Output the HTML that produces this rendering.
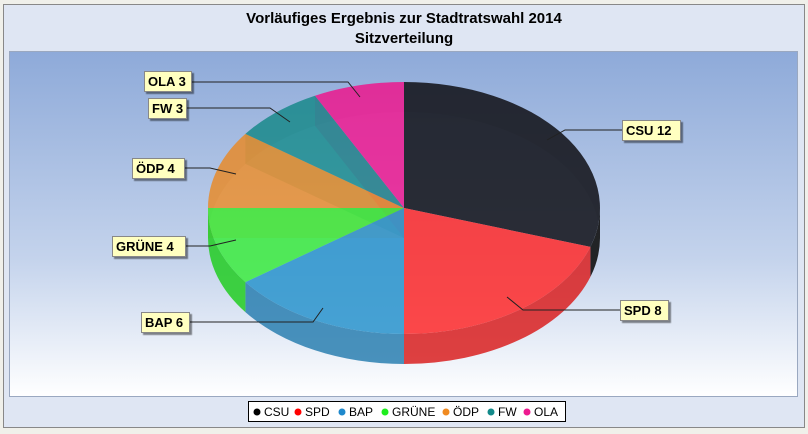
<!DOCTYPE html>
<html><head><meta charset="utf-8"><style>
body{margin:0;width:808px;height:429px;background:#f0f0ea;font-family:"Liberation Sans",sans-serif;overflow:hidden}
</style></head><body>
<svg width="808" height="429" xmlns="http://www.w3.org/2000/svg" font-family="Liberation Sans, sans-serif">
<defs>
<linearGradient id="bg" x1="0" y1="0" x2="0" y2="1">
<stop offset="0" stop-color="#8eaad9"/><stop offset="0.6" stop-color="#c4d3ec"/><stop offset="1" stop-color="#ffffff"/>
</linearGradient>
<filter id="sh"><feDropShadow dx="2" dy="2" stdDeviation="0.6" flood-color="#000" flood-opacity="0.45"/></filter>
</defs>
<rect x="3.5" y="4.5" width="801" height="423" fill="#dfe6f3" stroke="#888" stroke-width="1"/>
<text x="404" y="23" text-anchor="middle" font-weight="bold" font-size="15">Vorläufiges Ergebnis zur Stadtratswahl 2014</text>
<text x="404" y="43" text-anchor="middle" font-weight="bold" font-size="15">Sitzverteilung</text>
<rect x="9.5" y="51.5" width="788" height="345" fill="url(#bg)" stroke="#9aa8c0"/>
<g>
<!-- back walls faint -->
<path d="M208,208 A196,126 0 0 1 600,208 L600,238 A196,126 0 0 0 208,238 Z" fill="#556" opacity="0.15"/>
<!-- radial walls -->
<path d="M404,208 L404,82 L404,112 L404,238 Z" fill="#222" opacity="0.3"/>
<path d="M404,208 L245.4,133.9 L245.4,163.9 L404,238 Z" fill="#138a8a" opacity="0.35"/>
<path d="M404,208 L315,95.7 L315,125.7 L404,238 Z" fill="#ee1a90" opacity="0.35"/>
<path d="M404,208 L208,208 L208,238 L404,238 Z" fill="#f08a20" opacity="0.3"/>
<!-- sides -->
<path d="M600,208 A196,126 0 0 1 590.4,246.9 L590.4,276.9 A196,126 0 0 0 600,238 Z" fill="#111" opacity="0.9"/>
<path d="M590.4,246.9 A196,126 0 0 1 404,334 L404,364 A196,126 0 0 0 590.4,276.9 Z" fill="#d92020" opacity="0.85"/>
<path d="M404,334 A196,126 0 0 1 245.4,282.1 L245.4,312.1 A196,126 0 0 0 404,364 Z" fill="#2a7fb0" opacity="0.85"/>
<path d="M245.4,282.1 A196,126 0 0 1 208,208 L208,238 A196,126 0 0 0 245.4,312.1 Z" fill="#22cc22" opacity="0.85"/>
<!-- tops -->
<path d="M404,208 L404,82 A196,126 0 0 1 590.4,246.9 Z" fill="#14161c" opacity="0.88"/>
<path d="M404,208 L590.4,246.9 A196,126 0 0 1 404,334 Z" fill="#ff2a2a" opacity="0.85"/>
<path d="M404,208 L404,334 A196,126 0 0 1 245.4,282.1 Z" fill="#2a94cc" opacity="0.85"/>
<path d="M404,208 L245.4,282.1 A196,126 0 0 1 208,208 Z" fill="#33ee33" opacity="0.8"/>
<path d="M404,208 L208,208 A196,126 0 0 1 245.4,133.9 Z" fill="#f08a20" opacity="0.78"/>
<path d="M404,208 L245.4,133.9 A196,126 0 0 1 315,95.7 Z" fill="#138a8a" opacity="0.8"/>
<path d="M404,208 L315,95.7 A196,126 0 0 1 404,82 Z" fill="#ee1a90" opacity="0.85"/>
</g>
<g stroke="#222" stroke-width="1" fill="none">
<polyline points="547,140 565,130 622,130"/>
<polyline points="507,297 523,310 620,310"/>
<polyline points="189,322 313,322 323,308"/>
<polyline points="185,246 210,246 236,240"/>
<polyline points="184,168 210,168 236,174"/>
<polyline points="186,108 270,108 290,122"/>
<polyline points="191,82 348,82 360,97"/>
</g>
<g font-weight="bold" font-size="13" fill="#000">
<g filter="url(#sh)" fill="#ffffc0" stroke="#888">
<rect x="622.5" y="120.5" width="58" height="20"/>
<rect x="620.5" y="300.5" width="48" height="20"/>
<rect x="141.5" y="312.5" width="48" height="20"/>
<rect x="112.5" y="236.5" width="73" height="20"/>
<rect x="132.5" y="158.5" width="52" height="20"/>
<rect x="148.5" y="98.5" width="38" height="20"/>
<rect x="144.5" y="71.5" width="47" height="20"/>
</g>
<text x="626" y="135">CSU 12</text>
<text x="624" y="315">SPD 8</text>
<text x="145" y="327">BAP 6</text>
<text x="116" y="251">GRÜNE 4</text>
<text x="136" y="173">ÖDP 4</text>
<text x="152" y="113">FW 3</text>
<text x="148" y="86">OLA 3</text>
</g>
<rect x="248.5" y="401.5" width="317" height="20" fill="#fff" stroke="#000"/>
<g font-size="12">
<circle cx="257" cy="412" r="3.5" fill="#000"/><text x="264" y="416">CSU</text>
<circle cx="298" cy="412" r="3.5" fill="#f00"/><text x="305" y="416">SPD</text>
<circle cx="342" cy="412" r="3.5" fill="#1e88cc"/><text x="349" y="416">BAP</text>
<circle cx="385" cy="412" r="3.5" fill="#1eee1e"/><text x="392" y="416">GRÜNE</text>
<circle cx="446" cy="412" r="3.5" fill="#f08a20"/><text x="453" y="416">ÖDP</text>
<circle cx="491" cy="412" r="3.5" fill="#138a8a"/><text x="498" y="416">FW</text>
<circle cx="527" cy="412" r="3.5" fill="#ee1a90"/><text x="534" y="416">OLA</text>
</g>
</svg>
</body></html>
